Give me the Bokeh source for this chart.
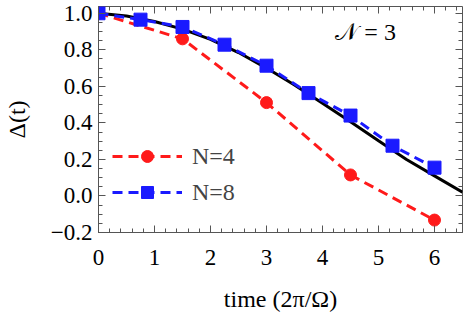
from bokeh.plotting import figure
from bokeh.models import Range1d, LinearAxis, Label, Legend, FixedTicker, CustomJSTickFormatter
from bokeh.embed import file_html
from bokeh.resources import INLINE

# data
t_exact = [0, 0.5, 1.0, 1.5, 2.0, 2.5, 3.0, 3.5, 4.0, 4.5, 5.0, 5.5, 6.0, 6.5]
d_exact = [1.0, 0.985, 0.955, 0.913, 0.857, 0.785, 0.70, 0.607, 0.508, 0.406, 0.302, 0.20, 0.11, 0.02]

t_n4 = [0, 1.5, 3.0, 4.5, 6.0]
d_n4 = [1.0, 0.86, 0.511, 0.115, -0.132]

t_n8 = [0, 0.75, 1.5, 2.25, 3.0, 3.75, 4.5, 5.25, 6.0]
d_n8 = [1.0, 0.965, 0.925, 0.828, 0.713, 0.563, 0.44, 0.275, 0.155]

x_ticks = [0, 1, 2, 3, 4, 5, 6]
y_ticks = [-0.2, 0.0, 0.2, 0.4, 0.6, 0.8, 1.0]
x_minor = [i * 0.2 for i in range(0, 33)]
y_minor = [-0.2 + i * 0.05 for i in range(0, 26)]

FONT = "Liberation Serif"
FS = "23px"
FRAME = "#555555"

p = figure(width=463, height=314, output_backend="svg", toolbar_location=None,
           x_range=Range1d(0, 6.5), y_range=Range1d(-0.2, 1.037),
           min_border_left=96, min_border_right=1, min_border_top=6, min_border_bottom=0)
p.grid.visible = False
p.outline_line_color = FRAME
p.outline_line_width = 1

p.line(t_exact, d_exact, line_color="black", line_width=3)

r4l = p.line(t_n4, d_n4, line_color="#ff1a1a", line_width=3, line_dash="10 6")
r4s = p.scatter(t_n4, d_n4, marker="circle", size=12, fill_color="#ff1a1a", line_color="#ff1a1a")
r8l = p.line(t_n8, d_n8, line_color="#1a1aff", line_width=3, line_dash="10 6")
r8s = p.scatter(t_n8, d_n8, marker="square", size=13, fill_color="#1a1aff", line_color="#1a1aff")

for ax in (p.xaxis[0], p.yaxis[0]):
    ax.major_label_text_font = FONT
    ax.major_label_text_font_size = FS
    ax.major_label_text_color = "black"
    ax.axis_label_text_font = FONT
    ax.axis_label_text_font_size = "24px"
    ax.axis_label_text_font_style = "normal"
    ax.axis_label_text_color = "black"
    ax.axis_line_color = FRAME
    ax.major_tick_in = 7
    ax.major_tick_out = 0
    ax.minor_tick_in = 4
    ax.minor_tick_out = 0
    ax.major_tick_line_color = FRAME
    ax.minor_tick_line_color = FRAME

p.xaxis[0].ticker = FixedTicker(ticks=x_ticks, minor_ticks=x_minor)
p.yaxis[0].ticker = FixedTicker(ticks=y_ticks, minor_ticks=y_minor)
p.xaxis[0].axis_label = "time (2π/Ω)"
p.yaxis[0].axis_label = "Δ(t)"
p.xaxis[0].major_label_standoff = 17
p.xaxis[0].axis_label_standoff = 18
p.yaxis[0].major_label_standoff = 6
p.yaxis[0].axis_label_standoff = 18
p.yaxis[0].formatter = CustomJSTickFormatter(
    code="return tick < -0.01 ? '\u2212' + Math.abs(tick).toFixed(1) : Math.abs(tick).toFixed(1);")

# mirrored ticks on top and right (no labels)
blank = CustomJSTickFormatter(code="return '';")
for side in ("above", "right"):
    ax = LinearAxis(formatter=blank, major_label_text_font_size="1px", major_tick_in=7, major_tick_out=0,
                    minor_tick_in=4, minor_tick_out=0, axis_line_color=None,
                    major_tick_line_color=FRAME, minor_tick_line_color=FRAME,
                    major_label_standoff=0)
    if side == "above":
        ax.ticker = FixedTicker(ticks=x_ticks, minor_ticks=x_minor)
    else:
        ax.ticker = FixedTicker(ticks=y_ticks, minor_ticks=y_minor)
    p.add_layout(ax, side)

lab = Label(x=4.77, y=0.895, text="𝒩 = 3", text_font=FONT, text_font_size="24px",
            text_align="center", text_baseline="middle", text_color="black")
p.add_layout(lab)

legend = Legend(items=[("N=4", [r4l, r4s]), ("N=8", [r8l, r8s])],
                location=(9, 20), glyph_width=70, glyph_height=30, spacing=6,
                padding=5, label_standoff=10, label_text_font=FONT,
                label_text_font_size="24px", background_fill_alpha=0,
                border_line_alpha=0, margin=0)
p.add_layout(legend)

open("out.html", "w").write(file_html(p, INLINE))
